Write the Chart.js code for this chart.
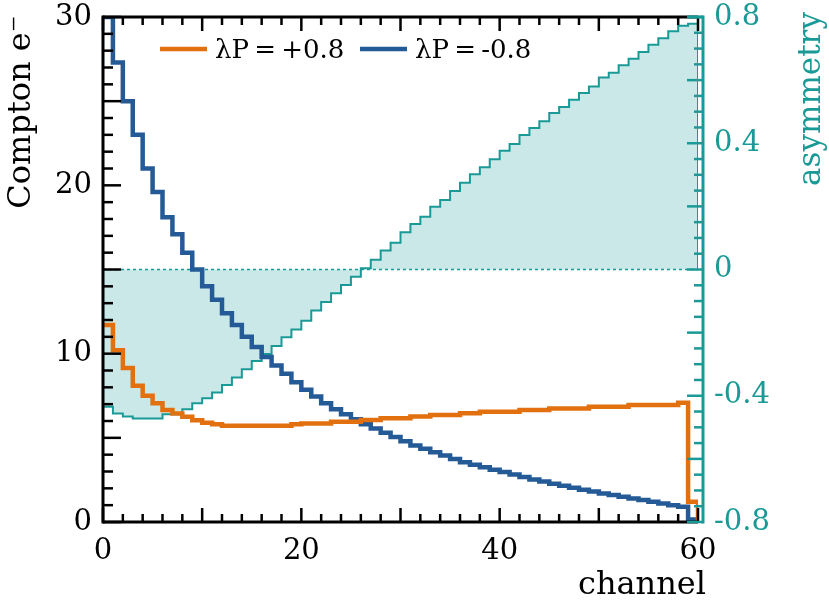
<!DOCTYPE html>
<html>
<head>
<meta charset="utf-8">
<script src="https://cdn.jsdelivr.net/npm/chart.js@4.4.0/dist/chart.umd.min.js"></script>
<style>
  html, body { margin: 0; padding: 0; background: #fff; }
  #wrap { width: 829px; height: 608px; }
</style>
</head>
<body>
<div id="wrap"><canvas id="myChart" width="829" height="608"></canvas></div>
<script>
// bin left edges, one bin per channel
const channels = Array.from({ length: 60 }, (_, i) => i);
const lastEdge = 60;

// Compton e- counts for lambda*P = +0.8
const comptonPlus = [
  11.7, 10.2, 9.15, 8.1, 7.5, 7.05, 6.65, 6.45, 6.25, 6.05,
  5.9, 5.8, 5.72, 5.72, 5.72, 5.72, 5.72, 5.72, 5.72, 5.8,
  5.85, 5.85, 5.85, 5.96, 5.96, 5.96, 6.06, 6.06, 6.17, 6.17,
  6.17, 6.26, 6.26, 6.36, 6.36, 6.36, 6.46, 6.46, 6.55, 6.55,
  6.55, 6.55, 6.65, 6.65, 6.65, 6.75, 6.75, 6.75, 6.75, 6.85,
  6.85, 6.85, 6.85, 6.95, 6.95, 6.95, 6.95, 6.95, 7.08, 1.2
];

// Compton e- counts for lambda*P = -0.8
const comptonMinus = [
  30.0, 27.3, 25.0, 23.0, 21.0, 19.6, 18.1, 17.1, 16.0, 15.0,
  14.0, 13.2, 12.4, 11.7, 11.0, 10.4, 9.8, 9.3, 8.8, 8.3,
  7.85, 7.45, 7.05, 6.7, 6.4, 6.1, 5.8, 5.55, 5.3, 5.05,
  4.8, 4.55, 4.35, 4.15, 3.95, 3.75, 3.55, 3.4, 3.25, 3.1,
  2.97, 2.82, 2.67, 2.53, 2.4, 2.27, 2.15, 2.03, 1.92, 1.81,
  1.7, 1.6, 1.5, 1.4, 1.3, 1.2, 1.1, 1.0, 0.9, 0.15
];

// asymmetry per channel (right axis)
const asymmetry = [
  -0.435, -0.456, -0.466, -0.472, -0.472, -0.472, -0.459, -0.459, -0.443, -0.424,
  -0.408, -0.39, -0.366, -0.342, -0.316, -0.29, -0.268, -0.242, -0.215, -0.19,
  -0.162, -0.13, -0.103, -0.075, -0.049, -0.023, 0.004, 0.031, 0.06, 0.085,
  0.118, 0.144, 0.167, 0.199, 0.22, 0.249, 0.275, 0.302, 0.324, 0.349,
  0.376, 0.398, 0.426, 0.448, 0.47, 0.496, 0.515, 0.538, 0.559, 0.58,
  0.608, 0.623, 0.647, 0.668, 0.689, 0.712, 0.733, 0.755, 0.772, 0.779
];

const seriesLabels = ['λP\u2009=\u2009+0.8', 'λP\u2009=\u2009-0.8'];

const ORANGE = '#e2700e';
const BLUE = '#245a96';
const TEAL = '#1a9a96';
const TEAL_FILL = '#c9e8e7';
const FONT = "'DejaVu Serif', serif";

function histPoints(values) {
  const pts = channels.map((c, i) => ({ x: c, y: values[i] }));
  pts.push({ x: lastEdge, y: 0 });
  return pts;
}

// fixed box sizes so the plot area sits where the reference has it
function fixWidth(w) {
  return s => { s.width = w; s.paddingTop = 0; s.paddingBottom = 0; };
}

document.addEventListener("DOMContentLoaded", function() {

const framePlugin = {
  id: 'frame',
  afterDraw(chart) {
    const ctx = chart.ctx;
    const a = chart.chartArea;
    const xs = chart.scales.x, ys = chart.scales.y, ys1 = chart.scales.y1;
    const seg = (x1, y1, x2, y2) => { ctx.beginPath(); ctx.moveTo(x1, y1); ctx.lineTo(x2, y2); ctx.stroke(); };
    ctx.save();
    ctx.lineCap = 'butt';

    // black frame and ticks
    ctx.strokeStyle = '#000';
    ctx.lineWidth = 2.5;
    for (let v = 0; v <= 60; v += 2) {
      const px = xs.getPixelForValue(v);
      const len = v % 10 === 0 ? 14 : 8;
      seg(px, a.bottom, px, a.bottom - len);
      seg(px, a.top, px, a.top + len);
    }
    for (let v = 0; v <= 30; v += 1) {
      const py = ys.getPixelForValue(v);
      const len = v % 5 === 0 ? 18 : 10;
      seg(a.left, py, a.left + len, py);
    }
    ctx.lineWidth = 3;
    seg(a.left, a.top, a.right, a.top);
    seg(a.left, a.bottom, a.right, a.bottom);
    seg(a.left, a.top - 1.5, a.left, a.bottom + 1.5);

    // teal right axis
    const rx = a.right + 5;
    ctx.strokeStyle = TEAL;
    ctx.lineWidth = 2.5;
    for (let k = -16; k <= 16; k++) {
      const py = ys1.getPixelForValue(k * 0.05);
      const len = k % 4 === 0 ? 16 : 9;
      seg(rx, py, rx - len, py);
    }
    ctx.lineWidth = 3;
    seg(rx, a.top - 1.5, rx, a.bottom + 1.5);
    seg(a.right - 10, a.top, rx, a.top);

    // axis titles
    ctx.fillStyle = '#000';
    ctx.font = '32px ' + FONT;
    ctx.textBaseline = 'middle';
    ctx.textAlign = 'center';
    ctx.save();
    ctx.translate(22, 112);
    ctx.rotate(-Math.PI / 2);
    ctx.fillText('Compton e\u207B', 0, 0);
    ctx.restore();

    ctx.fillStyle = TEAL;
    ctx.font = '31px ' + FONT;
    ctx.save();
    ctx.translate(812, 99);
    ctx.rotate(-Math.PI / 2);
    ctx.fillText('asymmetry', 0, 0);
    ctx.restore();

    ctx.fillStyle = '#000';
    ctx.font = '32px ' + FONT;
    ctx.textAlign = 'right';
    ctx.textBaseline = 'alphabetic';
    ctx.fillText('channel', a.right + 8, 594);

    // legend
    const items = [
      { x: 160, color: ORANGE, text: seriesLabels[0] },
      { x: 360, color: BLUE, text: seriesLabels[1] }
    ];
    ctx.font = '26px ' + FONT;
    ctx.textAlign = 'left';
    ctx.textBaseline = 'middle';
    items.forEach(it => {
      ctx.strokeStyle = it.color;
      ctx.lineWidth = 4.5;
      seg(it.x, 49, it.x + 47, 49);
      ctx.fillStyle = '#000';
      ctx.fillText(it.text, it.x + 55, 51);
    });
    ctx.restore();
  }
};

const ctx = document.getElementById('myChart').getContext('2d');

const myChart = new Chart(ctx, {
  type: 'line',
  data: {
    datasets: [
      {
        label: 'asymmetry',
        data: histPoints(asymmetry),
        yAxisID: 'y1',
        stepped: true,
        borderColor: TEAL,
        borderWidth: 2,
        backgroundColor: TEAL_FILL,
        fill: { value: 0 },
        pointRadius: 0,
        order: 4
      },
      {
        label: 'zero',
        data: [{ x: channels[0], y: 0 }, { x: lastEdge, y: 0 }],
        yAxisID: 'y1',
        borderColor: TEAL,
        borderWidth: 1.5,
        borderDash: [3, 3],
        fill: false,
        pointRadius: 0,
        order: 3
      },
      {
        label: seriesLabels[1],
        data: histPoints(comptonMinus),
        yAxisID: 'y',
        stepped: true,
        borderColor: BLUE,
        borderWidth: 4.5,
        fill: false,
        pointRadius: 0,
        order: 2
      },
      {
        label: seriesLabels[0],
        data: histPoints(comptonPlus),
        yAxisID: 'y',
        stepped: true,
        borderColor: ORANGE,
        borderWidth: 4.5,
        fill: false,
        pointRadius: 0,
        order: 1
      }
    ]
  },
  options: {
    responsive: false,
    animation: false,
    layout: { padding: { top: 17, left: 0, right: 0, bottom: 0 } },
    plugins: {
      legend: { display: false },
      tooltip: { enabled: false }
    },
    scales: {
      x: {
        type: 'linear',
        min: 0,
        max: 60,
        grid: { display: false, drawTicks: false },
        border: { display: false },
        ticks: { stepSize: 20, color: '#000', font: { family: FONT, size: 29 }, padding: 12, maxRotation: 0 },
        afterFit: s => { s.height = 86; s.paddingLeft = 0; s.paddingRight = 0; }
      },
      y: {
        position: 'left',
        min: 0,
        max: 30,
        grid: { display: false, drawTicks: false },
        border: { display: false },
        ticks: { stepSize: 10, color: '#000', font: { family: FONT, size: 29 }, padding: 11 },
        afterFit: fixWidth(103)
      },
      y1: {
        position: 'right',
        min: -0.8,
        max: 0.8,
        grid: { display: false, drawTicks: false },
        border: { display: false },
        ticks: {
          stepSize: 0.4,
          color: TEAL,
          font: { family: FONT, size: 29 },
          padding: 16,
          callback: v => Math.abs(v) < 1e-9 ? '0' : v.toFixed(1)
        },
        afterFit: fixWidth(131)
      }
    }
  },
  plugins: [framePlugin]
});

});
</script>
</body>
</html>
